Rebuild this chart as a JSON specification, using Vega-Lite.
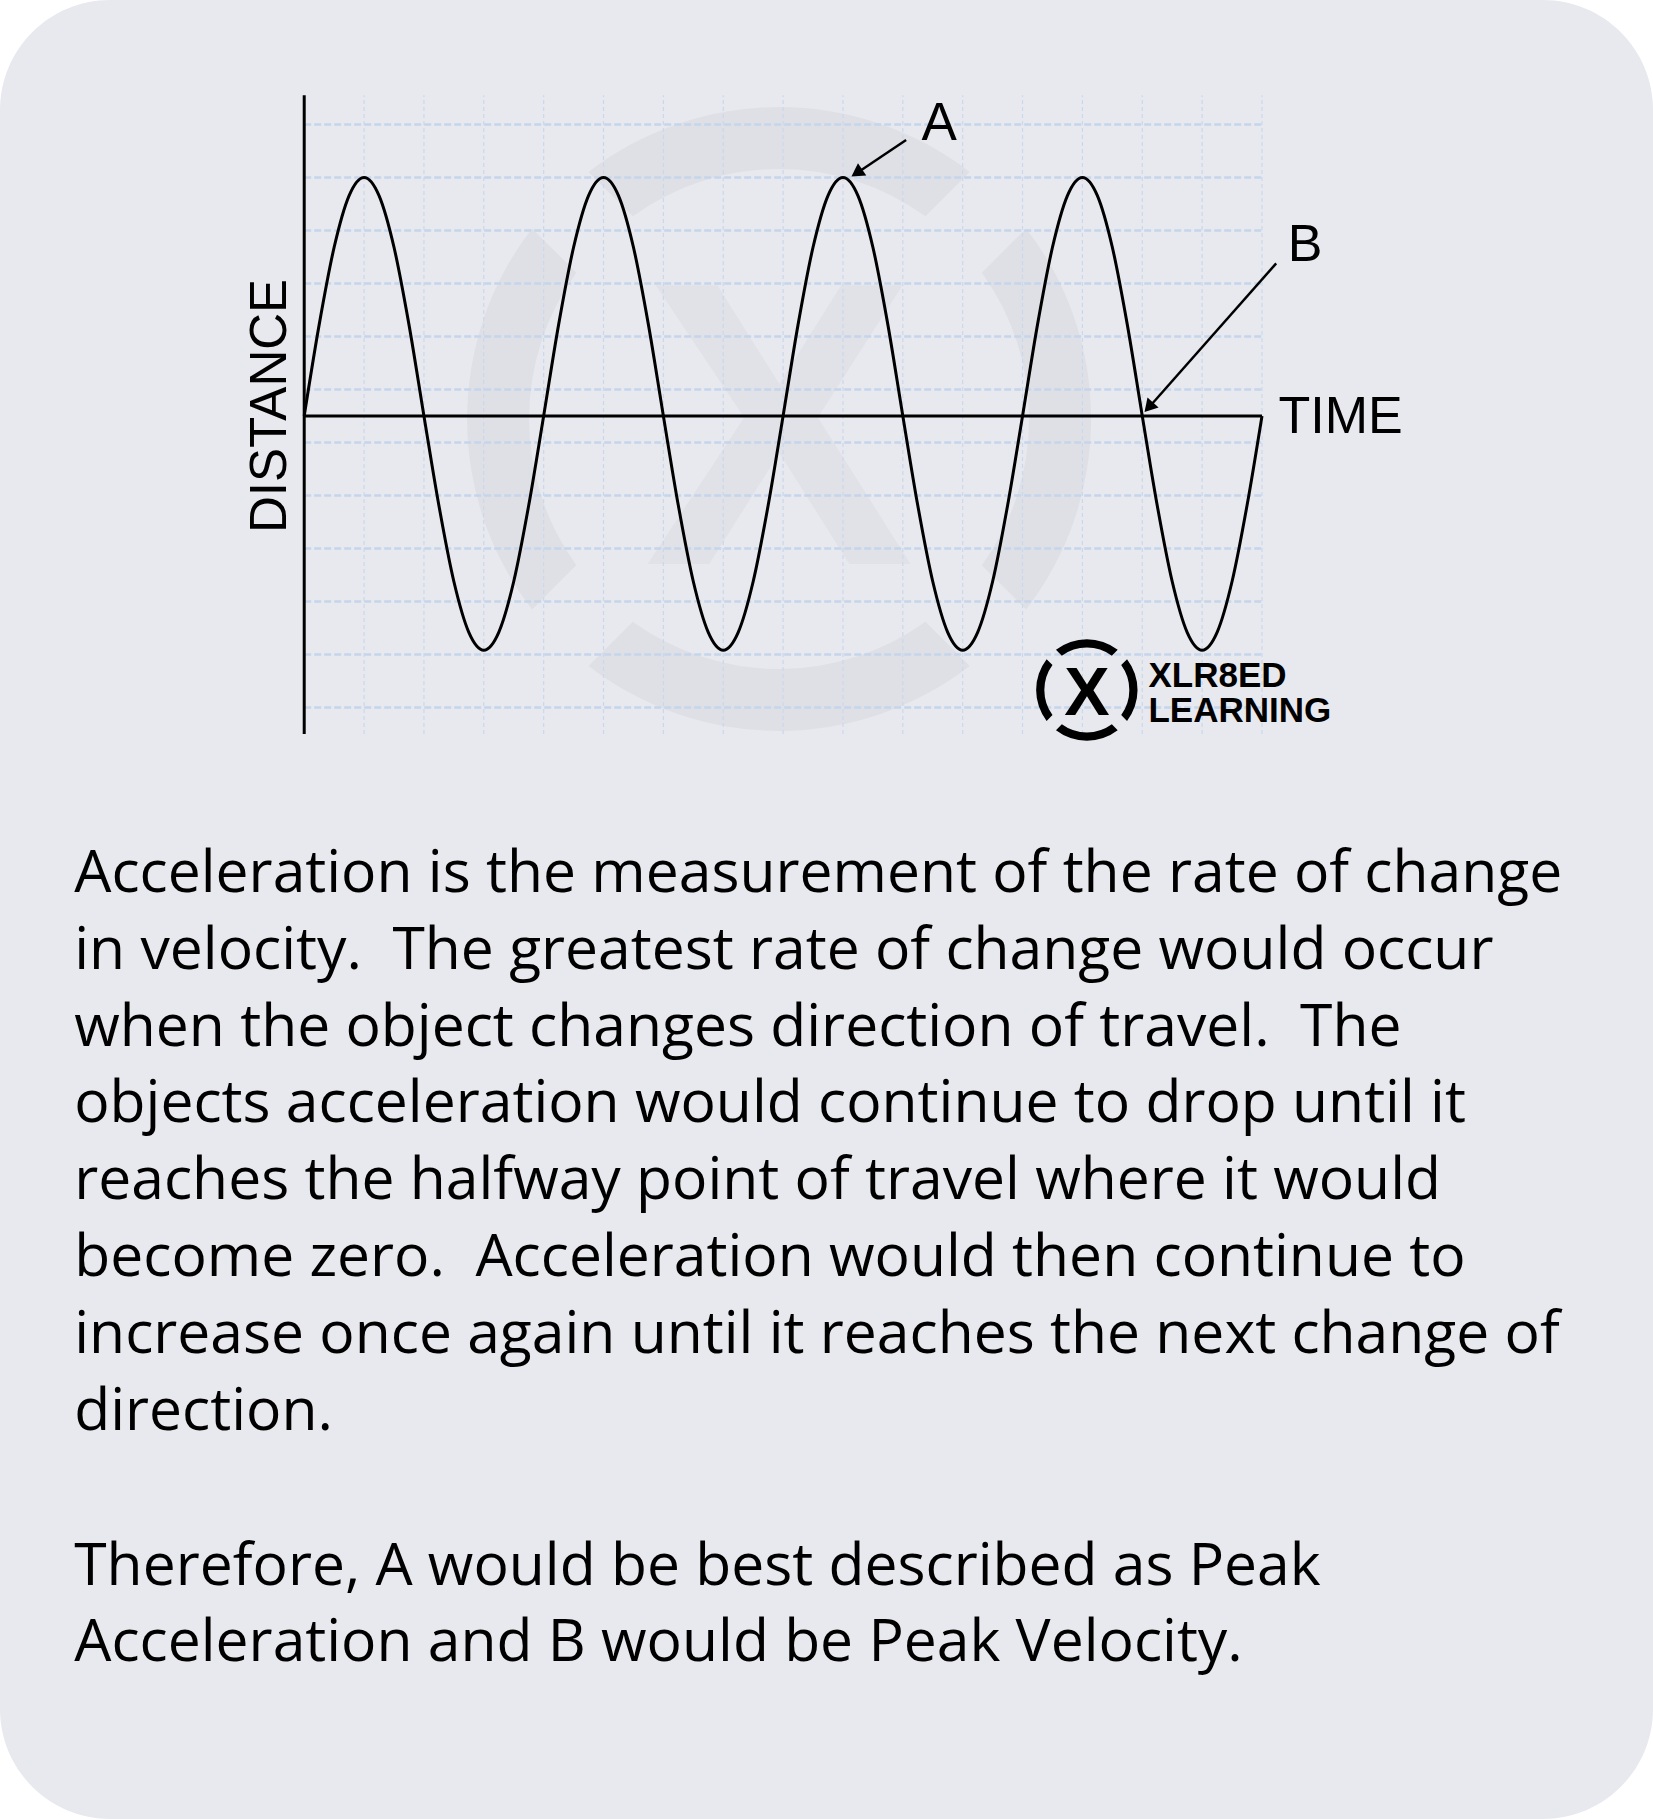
{
  "$schema": "https://vega.github.io/schema/vega-lite/v6.json",
  "width": 1653,
  "height": 1819,
  "autosize": {"type": "fit", "contains": "padding"},
  "padding": 0,
  "background": "#ffffff",
  "config": {
    "view": {"stroke": null, "fill": "#e8e9ee", "cornerRadius": 110},
    "text": {"font": "Liberation Sans", "color": "#000000"}
  },
  "datasets": {
    "curve": [
      {"t": 0, "d": 0}, {"t": 0.25, "d": 1.722}, {"t": 0.5, "d": 3.182}, {"t": 0.75, "d": 4.157},
      {"t": 1, "d": 4.5}, {"t": 1.25, "d": 4.157}, {"t": 1.5, "d": 3.182}, {"t": 1.75, "d": 1.722},
      {"t": 2, "d": 0}, {"t": 2.25, "d": -1.691}, {"t": 2.5, "d": -3.125}, {"t": 2.75, "d": -4.084},
      {"t": 3, "d": -4.42}, {"t": 3.25, "d": -4.084}, {"t": 3.5, "d": -3.125}, {"t": 3.75, "d": -1.691},
      {"t": 4, "d": 0}, {"t": 4.25, "d": 1.722}, {"t": 4.5, "d": 3.182}, {"t": 4.75, "d": 4.157},
      {"t": 5, "d": 4.5}, {"t": 5.25, "d": 4.157}, {"t": 5.5, "d": 3.182}, {"t": 5.75, "d": 1.722},
      {"t": 6, "d": 0}, {"t": 6.25, "d": -1.691}, {"t": 6.5, "d": -3.125}, {"t": 6.75, "d": -4.084},
      {"t": 7, "d": -4.42}, {"t": 7.25, "d": -4.084}, {"t": 7.5, "d": -3.125}, {"t": 7.75, "d": -1.691},
      {"t": 8, "d": 0}, {"t": 8.25, "d": 1.722}, {"t": 8.5, "d": 3.182}, {"t": 8.75, "d": 4.157},
      {"t": 9, "d": 4.5}, {"t": 9.25, "d": 4.157}, {"t": 9.5, "d": 3.182}, {"t": 9.75, "d": 1.722},
      {"t": 10, "d": 0}, {"t": 10.25, "d": -1.691}, {"t": 10.5, "d": -3.125}, {"t": 10.75, "d": -4.084},
      {"t": 11, "d": -4.42}, {"t": 11.25, "d": -4.084}, {"t": 11.5, "d": -3.125}, {"t": 11.75, "d": -1.691},
      {"t": 12, "d": 0}, {"t": 12.25, "d": 1.722}, {"t": 12.5, "d": 3.182}, {"t": 12.75, "d": 4.157},
      {"t": 13, "d": 4.5}, {"t": 13.25, "d": 4.157}, {"t": 13.5, "d": 3.182}, {"t": 13.75, "d": 1.722},
      {"t": 14, "d": 0}, {"t": 14.25, "d": -1.691}, {"t": 14.5, "d": -3.125}, {"t": 14.75, "d": -4.084},
      {"t": 15, "d": -4.42}, {"t": 15.25, "d": -4.084}, {"t": 15.5, "d": -3.125}, {"t": 15.75, "d": -1.691},
      {"t": 16, "d": 0}
    ],
    "vgrid": [
      {"t": 1}, {"t": 2}, {"t": 3}, {"t": 4}, {"t": 5}, {"t": 6}, {"t": 7}, {"t": 8},
      {"t": 9}, {"t": 10}, {"t": 11}, {"t": 12}, {"t": 13}, {"t": 14}, {"t": 15}, {"t": 16}
    ],
    "hgrid": [
      {"d": 5.5}, {"d": 4.5}, {"d": 3.5}, {"d": 2.5}, {"d": 1.5}, {"d": 0.5},
      {"d": -0.5}, {"d": -1.5}, {"d": -2.5}, {"d": -3.5}, {"d": -4.5}, {"d": -5.5}
    ],
    "ring": [
      {"seg": "a", "v": 1}, {"seg": "b", "v": 1}, {"seg": "c", "v": 1}, {"seg": "d", "v": 1}
    ]
  },
  "layer": [
    {
      "data": {"name": "ring"},
      "mark": {"type": "arc", "radius": 312, "radius2": 250, "padAngle": 0.2, "color": "#dfe0e6"},
      "encoding": {
        "theta": {"field": "v", "type": "quantitative", "stack": true, "scale": {"range": [0.7854, 7.0686]}},
        "detail": {"field": "seg"},
        "x": {"datum": 7.933, "type": "quantitative", "scale": {"domain": [-5.082, 22.532], "nice": false, "zero": false}, "axis": null},
        "y": {"datum": -0.058, "type": "quantitative", "scale": {"domain": [-26.474, 7.847], "nice": false, "zero": false}, "axis": null}
      }
    },
    {
      "data": {"values": [{"label": "X"}]},
      "mark": {"type": "text", "fontSize": 405, "fontWeight": "bold", "align": "center", "baseline": "alphabetic", "color": "#e1e2e7"},
      "encoding": {
        "text": {"field": "label"},
        "x": {"datum": 7.933, "type": "quantitative", "scale": {"domain": [-5.082, 22.532], "nice": false, "zero": false}, "axis": null},
        "y": {"datum": -2.794, "type": "quantitative", "scale": {"domain": [-26.474, 7.847], "nice": false, "zero": false}, "axis": null}
      }
    },
    {
      "data": {"name": "vgrid"},
      "mark": {"type": "rule", "color": "#c9d8ec", "strokeWidth": 1.2, "strokeDash": [4, 3]},
      "encoding": {
        "x": {"field": "t", "type": "quantitative", "scale": {"domain": [-5.082, 22.532], "nice": false, "zero": false}, "axis": null},
        "y": {"datum": -6, "type": "quantitative", "scale": {"domain": [-26.474, 7.847], "nice": false, "zero": false}, "axis": null},
        "y2": {"datum": 6.05}
      }
    },
    {
      "data": {"name": "hgrid"},
      "mark": {"type": "rule", "color": "#c4d5ec", "strokeWidth": 2.5, "strokeDash": [7, 3]},
      "encoding": {
        "y": {"field": "d", "type": "quantitative", "scale": {"domain": [-26.474, 7.847], "nice": false, "zero": false}, "axis": null},
        "x": {"datum": 0, "type": "quantitative", "scale": {"domain": [-5.082, 22.532], "nice": false, "zero": false}, "axis": null},
        "x2": {"datum": 16}
      }
    },
    {
      "data": {"values": [{"axis": "distance"}]},
      "mark": {"type": "rule", "color": "#000000", "strokeWidth": 3},
      "encoding": {
        "x": {"datum": 0, "type": "quantitative", "scale": {"domain": [-5.082, 22.532], "nice": false, "zero": false}, "axis": null},
        "y": {"datum": -6, "type": "quantitative", "scale": {"domain": [-26.474, 7.847], "nice": false, "zero": false}, "axis": null},
        "y2": {"datum": 6.05}
      }
    },
    {
      "data": {"values": [{"axis": "time"}]},
      "mark": {"type": "rule", "color": "#000000", "strokeWidth": 3},
      "encoding": {
        "y": {"datum": 0, "type": "quantitative", "scale": {"domain": [-26.474, 7.847], "nice": false, "zero": false}, "axis": null},
        "x": {"datum": 0, "type": "quantitative", "scale": {"domain": [-5.082, 22.532], "nice": false, "zero": false}, "axis": null},
        "x2": {"datum": 16}
      }
    },
    {
      "data": {"name": "curve"},
      "mark": {"type": "line", "color": "#000000", "strokeWidth": 3, "interpolate": "monotone"},
      "encoding": {
        "x": {"field": "t", "type": "quantitative", "scale": {"domain": [-5.082, 22.532], "nice": false, "zero": false}, "axis": null},
        "y": {"field": "d", "type": "quantitative", "scale": {"domain": [-26.474, 7.847], "nice": false, "zero": false}, "axis": null}
      }
    },
    {
      "data": {"values": [{"arrow": "A"}]},
      "mark": {"type": "rule", "color": "#000000", "strokeWidth": 2.5},
      "encoding": {
        "x": {"datum": 10.055, "type": "quantitative", "scale": {"domain": [-5.082, 22.532], "nice": false, "zero": false}, "axis": null},
        "y": {"datum": 5.206, "type": "quantitative", "scale": {"domain": [-26.474, 7.847], "nice": false, "zero": false}, "axis": null},
        "x2": {"datum": 9.19},
        "y2": {"datum": 4.55}
      }
    },
    {
      "data": {"values": [{"arrow": "B"}]},
      "mark": {"type": "rule", "color": "#000000", "strokeWidth": 2.5},
      "encoding": {
        "x": {"datum": 16.237, "type": "quantitative", "scale": {"domain": [-5.082, 22.532], "nice": false, "zero": false}, "axis": null},
        "y": {"datum": 2.879, "type": "quantitative", "scale": {"domain": [-26.474, 7.847], "nice": false, "zero": false}, "axis": null},
        "x2": {"datum": 14.08},
        "y2": {"datum": 0.12}
      }
    },
    {
      "data": {"values": [{"arrow": "A"}]},
      "mark": {"type": "point", "shape": "triangle-up", "filled": true, "color": "#000000", "size": 220, "angle": 236, "opacity": 1},
      "encoding": {
        "x": {"datum": 9.231, "type": "quantitative", "scale": {"domain": [-5.082, 22.532], "nice": false, "zero": false}, "axis": null},
        "y": {"datum": 4.585, "type": "quantitative", "scale": {"domain": [-26.474, 7.847], "nice": false, "zero": false}, "axis": null}
      }
    },
    {
      "data": {"values": [{"arrow": "B"}]},
      "mark": {"type": "point", "shape": "triangle-up", "filled": true, "color": "#000000", "size": 220, "angle": 221.5, "opacity": 1},
      "encoding": {
        "x": {"datum": 14.109, "type": "quantitative", "scale": {"domain": [-5.082, 22.532], "nice": false, "zero": false}, "axis": null},
        "y": {"datum": 0.162, "type": "quantitative", "scale": {"domain": [-26.474, 7.847], "nice": false, "zero": false}, "axis": null}
      }
    },
    {
      "data": {"values": [{"label": "A"}]},
      "mark": {"type": "text", "fontSize": 53, "align": "center", "baseline": "alphabetic"},
      "encoding": {
        "text": {"field": "label"},
        "x": {"datum": 10.606, "type": "quantitative", "scale": {"domain": [-5.082, 22.532], "nice": false, "zero": false}, "axis": null},
        "y": {"datum": 5.206, "type": "quantitative", "scale": {"domain": [-26.474, 7.847], "nice": false, "zero": false}, "axis": null}
      }
    },
    {
      "data": {"values": [{"label": "B"}]},
      "mark": {"type": "text", "fontSize": 52, "align": "center", "baseline": "alphabetic"},
      "encoding": {
        "text": {"field": "label"},
        "x": {"datum": 16.722, "type": "quantitative", "scale": {"domain": [-5.082, 22.532], "nice": false, "zero": false}, "axis": null},
        "y": {"datum": 2.928, "type": "quantitative", "scale": {"domain": [-26.474, 7.847], "nice": false, "zero": false}, "axis": null}
      }
    },
    {
      "data": {"values": [{"label": "TIME"}]},
      "mark": {"type": "text", "fontSize": 52, "align": "left", "baseline": "alphabetic"},
      "encoding": {
        "text": {"field": "label"},
        "x": {"datum": 16.276, "type": "quantitative", "scale": {"domain": [-5.082, 22.532], "nice": false, "zero": false}, "axis": null},
        "y": {"datum": -0.328, "type": "quantitative", "scale": {"domain": [-26.474, 7.847], "nice": false, "zero": false}, "axis": null}
      }
    },
    {
      "data": {"values": [{"label": "DISTANCE"}]},
      "mark": {"type": "text", "fontSize": 51, "align": "center", "baseline": "alphabetic", "angle": 270},
      "encoding": {
        "text": {"field": "label"},
        "x": {"datum": -0.31, "type": "quantitative", "scale": {"domain": [-5.082, 22.532], "nice": false, "zero": false}, "axis": null},
        "y": {"datum": 0.187, "type": "quantitative", "scale": {"domain": [-26.474, 7.847], "nice": false, "zero": false}, "axis": null}
      }
    },
    {
      "data": {"name": "ring"},
      "mark": {"type": "arc", "radius": 50.7, "radius2": 42.5, "padAngle": 0.2, "color": "#000000"},
      "encoding": {
        "theta": {"field": "v", "type": "quantitative", "stack": true, "scale": {"range": [0.7854, 7.0686]}},
        "detail": {"field": "seg"},
        "x": {"datum": 13.074, "type": "quantitative", "scale": {"domain": [-5.082, 22.532], "nice": false, "zero": false}, "axis": null},
        "y": {"datum": -5.172, "type": "quantitative", "scale": {"domain": [-26.474, 7.847], "nice": false, "zero": false}, "axis": null}
      }
    },
    {
      "data": {"values": [{"label": "X"}]},
      "mark": {"type": "text", "fontSize": 68, "fontWeight": "bold", "align": "center", "baseline": "alphabetic"},
      "encoding": {
        "text": {"field": "label"},
        "x": {"datum": 13.074, "type": "quantitative", "scale": {"domain": [-5.082, 22.532], "nice": false, "zero": false}, "axis": null},
        "y": {"datum": -5.644, "type": "quantitative", "scale": {"domain": [-26.474, 7.847], "nice": false, "zero": false}, "axis": null}
      }
    },
    {
      "data": {"values": [{"label": "XLR8ED"}]},
      "mark": {"type": "text", "fontSize": 35, "fontWeight": "bold", "align": "left", "baseline": "alphabetic"},
      "encoding": {
        "text": {"field": "label"},
        "x": {"datum": 14.104, "type": "quantitative", "scale": {"domain": [-5.082, 22.532], "nice": false, "zero": false}, "axis": null},
        "y": {"datum": -5.109, "type": "quantitative", "scale": {"domain": [-26.474, 7.847], "nice": false, "zero": false}, "axis": null}
      }
    },
    {
      "data": {"values": [{"label": "LEARNING"}]},
      "mark": {"type": "text", "fontSize": 35, "fontWeight": "bold", "align": "left", "baseline": "alphabetic"},
      "encoding": {
        "text": {"field": "label"},
        "x": {"datum": 14.104, "type": "quantitative", "scale": {"domain": [-5.082, 22.532], "nice": false, "zero": false}, "axis": null},
        "y": {"datum": -5.781, "type": "quantitative", "scale": {"domain": [-26.474, 7.847], "nice": false, "zero": false}, "axis": null}
      }
    },
    {
      "data": {"values": [{"para": "explanation"}]},
      "mark": {
        "type": "text",
        "font": "Open Sans",
        "fontSize": 58.8,
        "lineHeight": 76.8,
        "align": "left",
        "baseline": "alphabetic",
        "text": [
          "Acceleration is the measurement of the rate of change",
          "in velocity.\u00a0 The greatest rate of change would occur",
          "when the object changes direction of travel.\u00a0 The",
          "objects acceleration would continue to drop until it",
          "reaches the halfway point of travel where it would",
          "become zero.\u00a0 Acceleration would then continue to",
          "increase once again until it reaches the next change of",
          "direction."
        ]
      },
      "encoding": {
        "x": {"datum": -3.842, "type": "quantitative", "scale": {"domain": [-5.082, 22.532], "nice": false, "zero": false}, "axis": null},
        "y": {"datum": -8.983, "type": "quantitative", "scale": {"domain": [-26.474, 7.847], "nice": false, "zero": false}, "axis": null}
      }
    },
    {
      "data": {"values": [{"para": "conclusion"}]},
      "mark": {
        "type": "text",
        "font": "Open Sans",
        "fontSize": 58.8,
        "lineHeight": 76.8,
        "align": "left",
        "baseline": "alphabetic",
        "text": [
          "Therefore, A would be best described as Peak",
          "Acceleration and B would be Peak Velocity."
        ]
      },
      "encoding": {
        "x": {"datum": -3.842, "type": "quantitative", "scale": {"domain": [-5.082, 22.532], "nice": false, "zero": false}, "axis": null},
        "y": {"datum": -22.051, "type": "quantitative", "scale": {"domain": [-26.474, 7.847], "nice": false, "zero": false}, "axis": null}
      }
    }
  ]
}
